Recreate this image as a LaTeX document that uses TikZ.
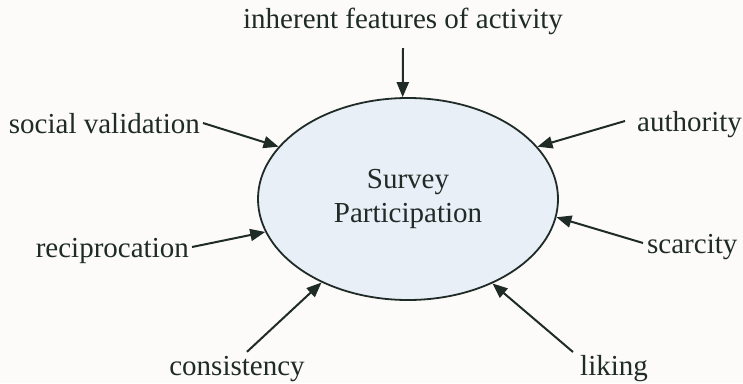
\documentclass[tikz,border=0pt]{standalone}
\usepackage{fontspec}
\setmainfont{Liberation Serif}
\usetikzlibrary{shapes.geometric,arrows.meta,calc}
\definecolor{ink}{HTML}{1E2B27}
\definecolor{fillblue}{HTML}{E8EFF6}
\definecolor{paper}{HTML}{FDFBF9}
\begin{document}
\begin{tikzpicture}[x=1pt,y=-1pt,
  font=\fontsize{29}{34}\selectfont,
  lab/.style={inner sep=3pt, text height=20pt, text depth=0pt, text=ink},
  arr/.style={draw=ink, line width=2pt, -{Triangle[length=15pt,width=12pt]}}]
\fill[paper] (0,0) rectangle (743,383);
\useasboundingbox (0,0) rectangle (743,383);
\node[ellipse, draw=ink, line width=1.8pt, fill=fillblue, minimum width=300pt,
      minimum height=202pt, inner sep=0pt, align=center, text=ink] (E) at (408,199)
      {Survey\\Participation};
\node[lab, anchor=base, inner ysep=20pt] (inh) at (403,28) {inherent features of activity};
\node[lab, anchor=east] (sv) at (203,123) {social validation};
\node[lab, anchor=east] (rec) at (192,247) {reciprocation};
\node[lab, anchor=west, inner xsep=12pt] (auth) at (625,121) {authority};
\node[lab, anchor=west, inner xsep=4pt] (scar) at (643,243) {scarcity};
\node[lab, anchor=base, inner ysep=3pt] (cons) at (237,375) {consistency};
\node[lab, anchor=north west, inner xsep=7pt, inner ysep=3pt] (lik) at (573,352) {liking};
\draw[arr] (inh.south) -- (E.93);
\draw[arr] (sv.east) -- (E.158);
\draw[arr] (rec.east) -- (E.193);
\draw[arr] (auth.west) -- (E.22);
\draw[arr] (scar.west) -- (E.353);
\draw[arr] ($(cons.north)+(10,0)$) -- (E.224);
\draw[arr] (lik.north west) -- (E.315);
\end{tikzpicture}
\end{document}
